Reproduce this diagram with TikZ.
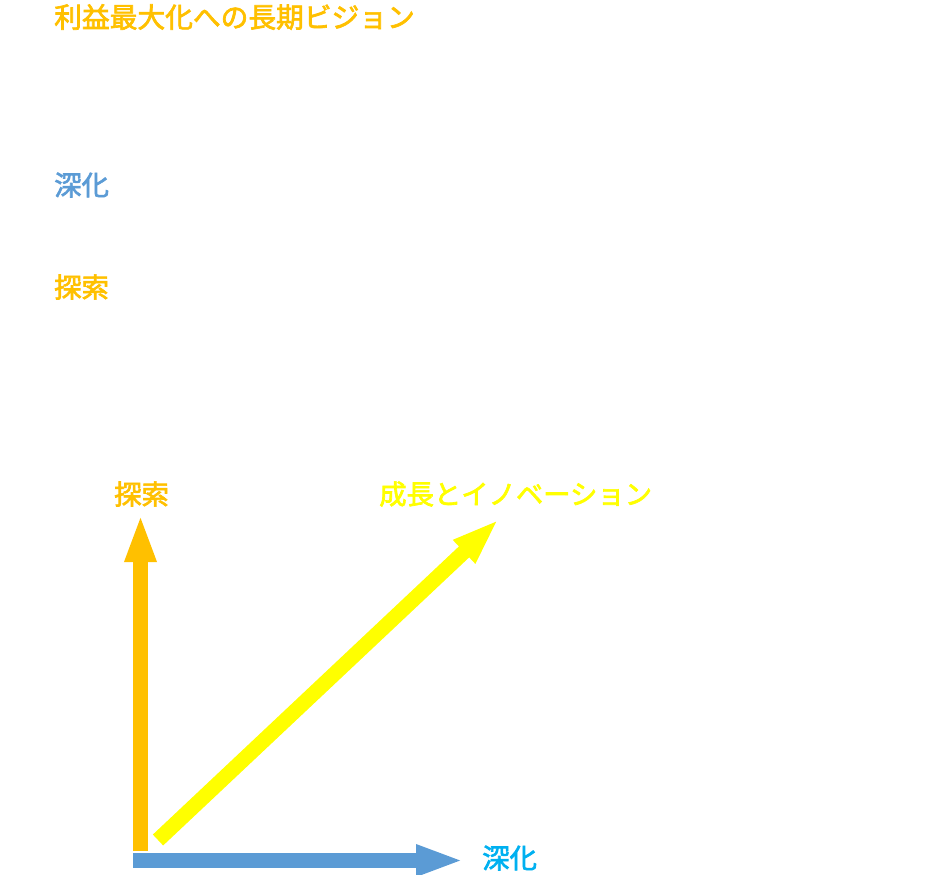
\documentclass[tikz,border=0pt]{standalone}
\usepackage{fontspec}
\setmainfont{Noto Sans CJK JP}[FakeBold=2.5]
\usepackage{tikz}
\usetikzlibrary{arrows.meta,positioning}
\definecolor{vorange}{HTML}{FFC000}
\definecolor{vblue}{HTML}{5B9BD5}
\definecolor{vyellow}{HTML}{FFFF00}
\definecolor{vcyan}{HTML}{00B0F0}

\begin{document}
\begin{tikzpicture}[
  x=0.75pt,y=-0.75pt,
  lbl/.style={inner sep=0pt,anchor=west,font=\fontsize{20.5pt}{24pt}\selectfont},
  ttl/.style={lbl,font=\fontsize{20.8pt}{24pt}\selectfont},
  axis/.style={-{Triangle[length=36pt,width=21.5pt]},line width=11.25pt}
]
\useasboundingbox (0,0) rectangle (933,875);
% legend on the top left
\node[ttl,text=vorange] (title) at (54,17) {利益最大化への長期ビジョン};
\node[lbl,text=vblue] (deepenkey) at (54,185) {深化};
\node[lbl,text=vorange] (explorekey) at (54,287) {探索};
% the three arrows
\coordinate (exploreStart) at (140.5,851);
\coordinate (exploreTip) at (140.5,514);
\coordinate (deepenStart) at (133,860.5);
\coordinate (deepenTip) at (464,860.5);
\coordinate (growthStart) at (158,840);
\coordinate (growthTip) at (499,519);
\draw[axis,vorange] (exploreStart) -- (exploreTip);
\draw[axis,vblue] (deepenStart) -- (deepenTip);
\draw[axis,vyellow] (growthStart) -- (growthTip);
% labels at the arrow tips
\node[lbl,text=vorange] (explore) at (114,494) {探索};
\node[lbl,text=vyellow] (growth) at (379,494) {成長とイノベーション};
\node[lbl,text=vcyan] (deepen) at (482,858) {深化};
\end{tikzpicture}
\end{document}
